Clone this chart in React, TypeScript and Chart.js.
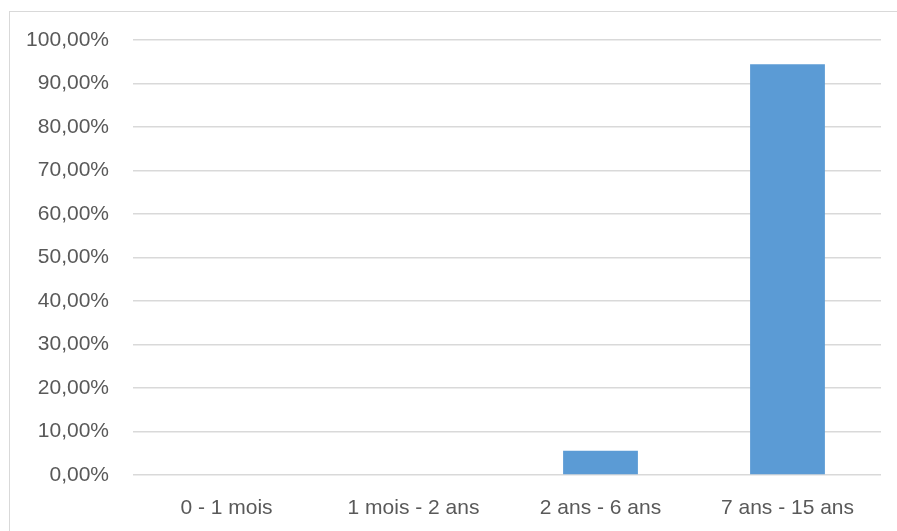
import React, { useEffect, useRef } from "react";
import { Chart, registerables } from "chart.js";

Chart.register(...registerables);

const categories: string[] = ["0 - 1 mois", "1 mois - 2 ans", "2 ans - 6 ans", "7 ans - 15 ans"];
const shares: number[] = [0, 0, 5.56, 94.44];
const yMin = 0;
const yMax = 100;
const yStep = 10;

const TEXT = "#595959";
const GRID = "#d9d9d9";
const BAR = "#5b9bd5";
const FONT = "'Liberation Sans', Arial, sans-serif";

function formatPercent(v: number): string {
  return v.toFixed(2).replace(".", ",") + "%";
}

export default function App() {
  const canvasRef = useRef<HTMLCanvasElement | null>(null);

  useEffect(() => {
    document.body.style.margin = "0";
    const canvas = canvasRef.current;
    if (!canvas) return;
    const chart = new Chart(canvas, {
      type: "bar",
      data: {
        labels: categories,
        datasets: [
          {
            data: shares,
            backgroundColor: BAR,
            borderWidth: 0,
            barPercentage: 0.4,
            categoryPercentage: 1,
          },
        ],
      },
      options: {
        animation: false,
        responsive: false,
        maintainAspectRatio: false,
        layout: { padding: { left: 0, right: 16, top: 40, bottom: 0 } },
        plugins: {
          legend: { display: false },
          tooltip: { enabled: false },
        },
        scales: {
          x: {
            grid: { display: false, drawTicks: false },
            border: { display: false },
            ticks: {
              color: TEXT,
              font: { family: FONT, size: 21 },
              padding: 21,
              maxRotation: 0,
              autoSkip: false,
            },
            afterFit: (scale: any) => {
              scale.height = 56;
            },
          },
          y: {
            min: yMin,
            max: yMax,
            grid: { color: GRID, lineWidth: 1.5, drawTicks: false },
            border: { display: false },
            ticks: {
              stepSize: yStep,
              color: TEXT,
              font: { family: FONT, size: 21 },
              padding: 24,
              callback: (v: any) => formatPercent(Number(v)),
            },
            afterFit: (scale: any) => {
              scale.width = 133;
            },
          },
        },
      },
    });
    return () => chart.destroy();
  }, []);

  return (
    <div style={{ position: "relative", width: 897, height: 531, overflow: "hidden", background: "#fff" }}>
      <div
        style={{
          position: "absolute",
          left: 9,
          top: 11,
          width: 900,
          height: 540,
          borderLeft: `1.5px solid ${GRID}`,
          borderTop: `1.5px solid ${GRID}`,
          boxSizing: "border-box",
        }}
      />
      <canvas ref={canvasRef} width={897} height={531} style={{ position: "absolute", left: 0, top: 0 }} />
    </div>
  );
}
